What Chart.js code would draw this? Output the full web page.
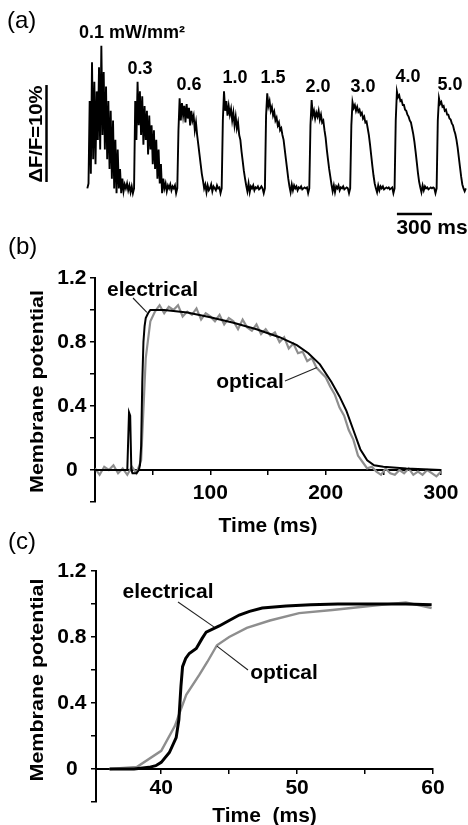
<!DOCTYPE html>
<html>
<head>
<meta charset="utf-8">
<script src="https://cdn.jsdelivr.net/npm/chart.js@4.4.1/dist/chart.umd.min.js"></script>
<style>
  html, body { margin: 0; padding: 0; background: #fff; }
  body { width: 468px; height: 825px; position: relative; overflow: hidden; }
  canvas { position: absolute; left: 0; }
  #chartA { top: 0; }
  #chartB { top: 232px; }
  #chartC { top: 530px; }
</style>
</head>
<body>
<canvas id="chartA" width="468" height="245"></canvas>
<canvas id="chartB" width="468" height="303"></canvas>
<canvas id="chartC" width="468" height="295"></canvas>
<script>
// panel (a): optical traces, dF/F in %, one sample every 10 ms from each start time
const sampleStep = 10;
const apStart = [20, 420, 790, 1170, 1540, 1920, 2270, 2650, 3010];
const apLabels = ['0.1 mW/mm²', '0.3', '0.6', '1.0', '1.5', '2.0', '3.0', '4.0', '5.0'];
const ap01 = [0, 0.5, 9.0, 1.5, 13.0, 3.0, 11.0, 2.5, 10.0, 5.0, 12.5, 4.0, 14.7, 5.5, 12.0, 4.0, 10.5, 3.0, 9.0, 2.0,
  8.0, 1.0, 7.0, 0.0, 5.0, -0.5, 4.0, 0.0, 2.0, -0.5, 1.0, -0.3, 0.4, 0.0, 0.5, -0.2, 0.3, -0.4, 0.2, -0.5];
const ap03 = [0, 9.0, 5.0, 11.0, 6.5, 10.0, 5.5, 9.5, 4.5, 8.5, 5.0, 8.0, 3.5, 7.5, 4.0, 6.5, 2.5, 6.0, 2.0, 5.0,
  1.0, 4.0, 0.5, 2.5, -0.5, 1.0, 0.0, 0.5, -0.3, 0.3, 0.0, 0.4, -0.2, 0.2, 0.0, 0.3, -0.5];
const ap06 = [0, 6.0, 9.3, 7.0, 8.8, 7.5, 8.5, 6.8, 8.7, 7.2, 8.3, 6.5, 8.0, 7.0, 7.5, 6.0, 6.8, 5.5, 4.5, 3.5,
  2.5, 1.5, 0.8, 0.0, 0.4, -0.4, 0.3, -0.2, 0.0, 0.4, -0.3, 0.2, 0.0, -0.2, 0.3, 0.0, 0.1, -0.5];
const ap10 = [0, 7.0, 10.0, 8.0, 9.0, 7.5, 8.5, 7.6, 8.2, 7.0, 7.8, 6.5, 7.4, 6.2, 6.8, 5.5, 5.0, 3.8, 2.8, 1.8,
  1.0, 0.3, -0.3, 0.5, -0.4, 0.2, 0.0, 0.3, -0.2, 0.1, 0.0, 0.2, -0.1, 0.0, 0.2, 0.0, -0.5];
const ap15 = [0, 7.5, 9.8, 8.5, 9.0, 8.0, 8.4, 7.5, 7.9, 7.0, 7.3, 6.5, 6.8, 6.0, 6.2, 5.5, 5.0, 4.0, 3.0, 2.0,
  1.0, 0.2, -0.4, 0.4, -0.2, 0.3, 0.0, 0.2, -0.2, 0.1, 0.0, 0.2, -0.1, 0.0, 0.1, 0.0, 0.1, -0.5];
const ap20 = [0, 6.5, 9.1, 7.5, 8.0, 7.2, 7.8, 7.4, 8.0, 7.1, 7.6, 6.8, 7.0, 6.0, 5.2, 4.0, 3.0, 2.0, 1.2, 0.4,
  -0.3, 0.3, -0.4, 0.2, 0.0, 0.3, -0.2, 0.1, 0.0, 0.2, -0.1, 0.0, 0.1, 0.0, -0.5];
const ap30 = [0, 6.5, 8.9, 8.3, 8.6, 8.0, 8.4, 7.9, 8.1, 7.6, 7.8, 7.2, 7.4, 6.8, 6.9, 6.2, 5.5, 4.5, 3.4, 2.3,
  1.3, 0.5, 0.0, -0.4, 0.3, -0.2, 0.2, 0.0, 0.2, -0.1, 0.0, 0.1, 0.0, 0.1, -0.1, 0.0, 0.1, -0.5];
const ap40 = [0, 7.0, 10.0, 9.4, 9.6, 9.0, 9.1, 8.6, 8.6, 8.1, 8.0, 7.6, 7.4, 7.0, 6.8, 6.2, 5.6, 4.8, 3.8, 2.7,
  1.6, 0.7, 0.1, -0.4, 0.3, -0.2, 0.2, 0.0, 0.1, -0.1, 0.0, 0.1, 0.0, 0.1, 0.0, -0.5];
const ap50 = [0, 7.0, 9.3, 8.7, 8.9, 8.4, 8.5, 8.0, 8.1, 7.6, 7.6, 7.2, 7.1, 6.7, 6.5, 6.0, 5.6, 5.0, 4.2, 3.2,
  2.2, 1.2, 0.4, 0.0, -0.3, 0.0];

// panel (b): full action potential, normalised
const elecTimeB = [0, 28, 29.5, 30.5, 31.5, 32.5, 36, 38, 39, 40, 41, 42, 43, 44, 46, 48, 52, 60, 80, 100,
  120, 140, 160, 175, 185, 195, 205, 212, 218, 224, 230, 236, 242, 250, 270, 300];
const elecB = [0, 0, 0.36, 0.34, 0.0, -0.02, -0.02, 0.0, 0.03, 0.15, 0.55, 0.8, 0.9, 0.95, 0.98, 1.0, 1.0, 1.0, 0.985, 0.955,
  0.92, 0.88, 0.83, 0.78, 0.73, 0.66, 0.55, 0.46, 0.37, 0.25, 0.13, 0.06, 0.03, 0.02, 0.01, 0.0];
const optStepB = 4;
const optB = [0.01, -0.03, 0.02, 0.0, 0.03, -0.02, 0.01, -0.03, 0.02, -0.02,
  0.06, 0.70, 0.93, 0.99, 1.03, 0.98, 1.02, 1.0, 1.03, 0.96,
  0.99, 0.97, 1.01, 0.94, 0.98, 0.96, 0.93, 0.97, 0.91, 0.95,
  0.93, 0.88, 0.94, 0.89, 0.87, 0.91, 0.85, 0.88, 0.84, 0.86,
  0.80, 0.83, 0.76, 0.79, 0.73, 0.74, 0.68, 0.70, 0.64, 0.61,
  0.58, 0.52, 0.47, 0.39, 0.34, 0.25, 0.19, 0.09, 0.05, 0.01,
  0.02, -0.01, -0.03, 0.01, -0.02, -0.03, 0.0, -0.02, 0.01, -0.03,
  -0.01, -0.03, 0.0, -0.02, -0.04, -0.01];

// panel (c): upstroke close-up
const elecTimeC = [36.2, 37, 38, 39.1, 39.6, 40, 40.6, 41.1, 41.3, 41.45, 41.57, 41.8, 42.06, 42.58, 43, 43.31,
  44.27, 45, 45.74, 46.5, 47.43, 49.19, 51, 53, 55, 58, 59.9];
const elecC = [0, 0, 0, 0.01, 0.02, 0.04, 0.1, 0.19, 0.3, 0.5, 0.62, 0.67, 0.70, 0.73, 0.79, 0.83,
  0.867, 0.9, 0.933, 0.955, 0.976, 0.988, 0.995, 1.0, 1.0, 1.0, 0.995];
const optTimeC = [36.2, 38.2, 40, 41, 41.84, 42.8, 43.4, 44.1, 45, 46.3, 48, 50.15, 52.6, 55, 58, 59.9];
const optC = [0, 0.012, 0.11, 0.26, 0.45, 0.57, 0.65, 0.75, 0.8, 0.855, 0.9, 0.945, 0.964, 0.985, 1.01, 0.975];

const yTickLabels = ['0', '0.4', '0.8', '1.2'];
const xTickLabelsB = ['100', '200', '300'];
const xTicksC = [40, 45, 50, 55, 60];
const xTickLabelsC = ['40', '50', '60'];

const FONT = "'Liberation Sans', Arial, sans-serif";
const GREY = '#8e8e8e';
Chart.defaults.font.family = FONT;
Chart.defaults.color = '#000';

const traces = [ap01, ap03, ap06, ap10, ap15, ap20, ap30, ap40, ap50];
const tracePoints = traces.flatMap((vals, k) => vals.map((v, i) => ({ x: apStart[k] + i * sampleStep, y: v })));
const pts = (ts, vs) => vs.map((v, i) => ({ x: ts[i], y: v }));

function vText(ctx, text, cx, cy, size, length) {
  ctx.save();
  ctx.translate(cx, cy);
  ctx.rotate(-Math.PI / 2);
  ctx.font = `bold ${size}px ${FONT}`;
  ctx.textAlign = 'center';
  ctx.textBaseline = 'middle';
  const w = ctx.measureText(text).width;
  ctx.scale(length / w, 1);
  ctx.fillText(text, 0, 0);
  ctx.restore();
}

function leader(ctx, x1, y1, x2, y2) {
  ctx.save();
  ctx.lineWidth = 1.1;
  ctx.strokeStyle = '#222';
  ctx.beginPath();
  ctx.moveTo(x1, y1);
  ctx.lineTo(x2, y2);
  ctx.stroke();
  ctx.restore();
}

const panelAText = {
  id: 'panelAText',
  afterDraw(chart) {
    const { ctx } = chart;
    const xs = chart.scales.x, ys = chart.scales.y;
    ctx.save();
    ctx.fillStyle = '#000';
    ctx.strokeStyle = '#000';
    ctx.font = `24px ${FONT}`;
    ctx.textAlign = 'left';
    ctx.textBaseline = 'middle';
    ctx.fillText('(a)', 7, 21);

    const labelPos = [[132, 33], [140, 69], [189, 85], [235, 78], [273, 78], [318, 87], [363, 87], [408, 77], [450, 85]];
    ctx.font = `bold 18px ${FONT}`;
    ctx.textAlign = 'center';
    apLabels.forEach((t, i) => ctx.fillText(t, labelPos[i][0], labelPos[i][1]));

    // scale bars: 10 % dF/F and 300 ms
    ctx.lineWidth = 2.5;
    const barLen = ys.getPixelForValue(0) - ys.getPixelForValue(10);
    ctx.beginPath();
    ctx.moveTo(46.5, 182);
    ctx.lineTo(46.5, 182 - barLen);
    ctx.stroke();
    vText(ctx, 'ΔF/F=10%', 37.5, 134, 18, 97);

    ctx.beginPath();
    ctx.moveTo(xs.getPixelForValue(2670), 214);
    ctx.lineTo(xs.getPixelForValue(2970), 214);
    ctx.stroke();
    ctx.font = `bold 21px ${FONT}`;
    ctx.fillText('300 ms', 432, 228);
    ctx.restore();
  }
};

const panelBText = {
  id: 'panelBText',
  afterDraw(chart) {
    const { ctx } = chart;
    const xs = chart.scales.x, ys = chart.scales.y;
    ctx.save();
    ctx.fillStyle = '#000';
    ctx.font = `24px ${FONT}`;
    ctx.textAlign = 'left';
    ctx.textBaseline = 'middle';
    ctx.fillText('(b)', 8, 15);
    vText(ctx, 'Membrane potential', 37.5, 159.5, 19, 203);
    ctx.font = `bold 21px ${FONT}`;
    ctx.textAlign = 'center';
    ctx.fillText('electrical', 152.5, 58);
    ctx.fillText('optical', 250, 150);
    leader(ctx, 133, 66, xs.getPixelForValue(45), ys.getPixelForValue(0.985));
    leader(ctx, 285, 149, xs.getPixelForValue(192.5), ys.getPixelForValue(0.64));
    ctx.restore();
  }
};

const panelCText = {
  id: 'panelCText',
  afterDraw(chart) {
    const { ctx } = chart;
    const xs = chart.scales.x, ys = chart.scales.y;
    ctx.save();
    ctx.fillStyle = '#000';
    ctx.font = `24px ${FONT}`;
    ctx.textAlign = 'left';
    ctx.textBaseline = 'middle';
    ctx.fillText('(c)', 8, 12);
    vText(ctx, 'Membrane potential', 37.5, 150, 19, 203);
    ctx.font = `bold 21px ${FONT}`;
    ctx.textAlign = 'center';
    ctx.fillText('electrical', 168, 62);
    ctx.fillText('optical', 284, 143);
    leader(ctx, 178, 72, xs.getPixelForValue(43.9), ys.getPixelForValue(0.86));
    leader(ctx, xs.getPixelForValue(44.1), ys.getPixelForValue(0.745), 248, 140);
    ctx.restore();
  }
};

const tickFont = { size: 21, weight: 'bold' };
const axisGrid = { drawOnChartArea: false, color: '#000', lineWidth: 1.5 };
const axisBorder = { display: true, color: '#000', width: 2 };
const yTick = v => {
  const s = String(Math.round(v * 10) / 10);
  return yTickLabels.includes(s) ? s : '';
};
const xTick = labels => v => {
  const s = String(Math.round(v));
  return labels.includes(s) ? s : '';
};

new Chart(document.getElementById('chartA'), {
  type: 'line',
  data: {
    datasets: [{ data: tracePoints, borderColor: '#000', borderWidth: 1.9, pointRadius: 0, tension: 0 }]
  },
  options: {
    responsive: false,
    animation: false,
    layout: { padding: { left: 85, right: 1, top: 40, bottom: 45 } },
    plugins: { legend: { display: false }, tooltip: { enabled: false } },
    scales: {
      x: { type: 'linear', display: false, min: 0, max: 3270 },
      y: { display: false, min: -1.2, max: 15.3 }
    }
  },
  plugins: [panelAText]
});

new Chart(document.getElementById('chartB'), {
  type: 'line',
  data: {
    datasets: [
      { label: 'electrical', data: pts(elecTimeB, elecB), borderColor: '#000', borderWidth: 2, pointRadius: 0, tension: 0 },
      { label: 'optical', data: optB.map((v, i) => ({ x: i * optStepB, y: v })), borderColor: GREY, borderWidth: 2.2, pointRadius: 0, tension: 0 }
    ]
  },
  options: {
    responsive: false,
    animation: false,
    layout: { padding: { left: 0, right: 27, top: 46, bottom: 33 } },
    plugins: { legend: { display: false }, tooltip: { enabled: false } },
    scales: {
      x: {
        type: 'linear', position: { y: 0 }, min: 0, max: 300,
        ticks: {
          stepSize: 50, autoSkip: false, maxRotation: 0, padding: 7, font: tickFont, color: '#000',
          callback: xTick(xTickLabelsB)
        },
        grid: { ...axisGrid, tickLength: 4 },
        border: axisBorder,
        title: { display: true, text: 'Time (ms)', font: tickFont, color: '#000', padding: { top: 0, bottom: 0 } }
      },
      y: {
        min: -0.2, max: 1.2,
        afterFit: s => { s.width = 95; },
        ticks: { stepSize: 0.2, crossAlign: 'center', padding: 3.5, font: tickFont, color: '#000', callback: yTick },
        grid: { ...axisGrid, tickLength: 5 },
        border: axisBorder
      }
    }
  },
  plugins: [panelBText]
});

new Chart(document.getElementById('chartC'), {
  type: 'line',
  data: {
    datasets: [
      { label: 'electrical', data: pts(elecTimeC, elecC), borderColor: '#000', borderWidth: 3, pointRadius: 0, tension: 0 },
      { label: 'optical', data: pts(optTimeC, optC), borderColor: GREY, borderWidth: 2.4, pointRadius: 0, tension: 0 }
    ]
  },
  options: {
    responsive: false,
    animation: false,
    layout: { padding: { left: 0, right: 35, top: 41, bottom: 23 } },
    plugins: { legend: { display: false }, tooltip: { enabled: false } },
    scales: {
      x: {
        type: 'linear', position: { y: 0 }, min: 35.2, max: 60,
        afterBuildTicks: s => { s.ticks = xTicksC.map(v => ({ value: v })); },
        ticks: {
          autoSkip: false, maxRotation: 0, padding: 2.5, font: tickFont, color: '#000',
          callback: xTick(xTickLabelsC)
        },
        grid: { ...axisGrid, tickLength: 4 },
        border: axisBorder,
        title: { display: true, text: 'Time  (ms)', font: tickFont, color: '#000', padding: { top: 0, bottom: 0 } }
      },
      y: {
        min: -0.2, max: 1.2,
        afterFit: s => { s.width = 96; },
        ticks: { stepSize: 0.2, crossAlign: 'center', padding: 4.5, font: tickFont, color: '#000', callback: yTick },
        grid: { ...axisGrid, tickLength: 5 },
        border: axisBorder
      }
    }
  },
  plugins: [panelCText]
});
</script>
</body>
</html>
